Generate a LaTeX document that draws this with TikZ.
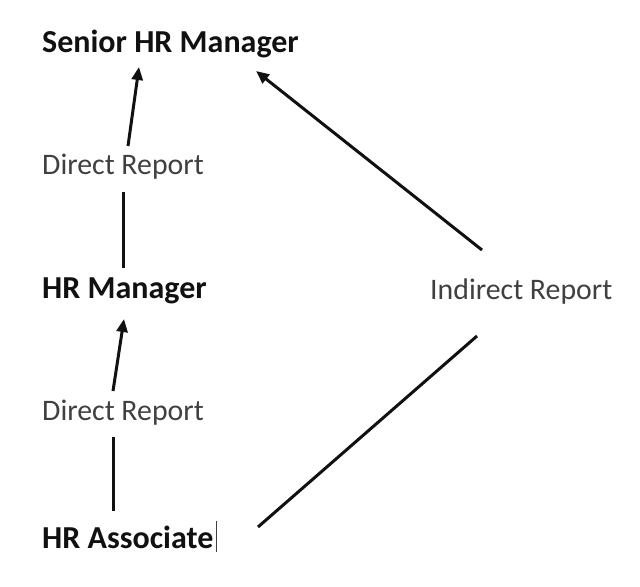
\documentclass[tikz,border=0pt]{standalone}
\usepackage{fontspec}
\setmainfont{Carlito}
\usetikzlibrary{arrows.meta}
\definecolor{lbl}{HTML}{404040}
\definecolor{ink}{HTML}{111111}
\tikzset{
  role/.style={anchor=west, inner sep=0pt, font=\fontsize{32bp}{38bp}\selectfont\bfseries, text=ink},
  rep/.style={anchor=west, inner sep=0pt, font=\fontsize{29.8bp}{36bp}\selectfont, text=lbl},
  conn/.style={line width=3bp, draw=ink},
  arr/.style={conn, -{Triangle[length=13bp,width=11bp]}}
}
\begin{document}
\begin{tikzpicture}[x=1bp,y=-1bp]
\useasboundingbox[fill=white] (0,0) rectangle (640,587);
\node[role] (senior) at (42,44) {Senior HR Manager};
\node[rep] (dr1) at (42,167) {Direct Report};
\node[role] (mgr) at (42,291) {HR Manager};
\node[rep] (dr2) at (42,413) {Direct Report};
\node[role] (assoc) at (42,537) {HR Associate};
\node[rep] (ind) at (430,292) {Indirect Report};
% connector end points
\coordinate (a1s) at (128,146); \coordinate (a1e) at (139,67);
\coordinate (l1s) at (123,268); \coordinate (l1e) at (123,192);
\coordinate (a2s) at (113,391); \coordinate (a2e) at (124,319);
\coordinate (l2s) at (113,511); \coordinate (l2e) at (113,437);
\coordinate (a3s) at (482,250); \coordinate (a3e) at (256,71);
\coordinate (l3s) at (258,527); \coordinate (l3e) at (477,336);
\draw[arr] (a1s) -- (a1e);
\draw[conn] (l1s) -- (l1e);
\draw[arr] (a2s) -- (a2e);
\draw[conn] (l2s) -- (l2e);
\draw[arr] (a3s) -- (a3e);
\draw[conn] (l3s) -- (l3e);
% text cursor after HR Associate
\draw[line width=1bp, draw=lbl] ([xshift=3bp,yshift=-15bp]assoc.east) -- ([xshift=3bp,yshift=16bp]assoc.east);
\end{tikzpicture}
\end{document}
